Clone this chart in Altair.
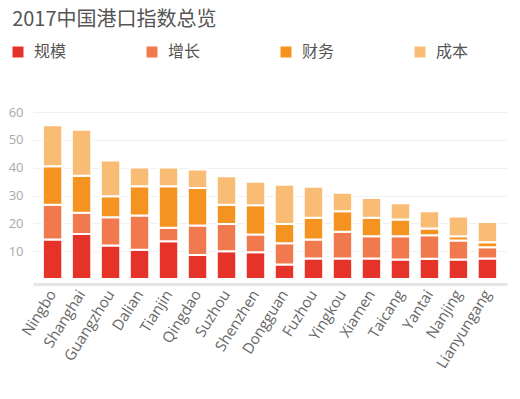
import altair as alt
import pandas as pd

ports = ["Ningbo", "Shanghai", "Guangzhou", "Dalian", "Tianjin", "Qingdao", "Suzhou",
         "Shenzhen", "Dongguan", "Fuzhou", "Yingkou", "Xiamen", "Taicang", "Yantai",
         "Nanjing", "Lianyungang"]
categories = ["规模", "增长", "财务", "成本"]
colors = ["#E5332A", "#F07A4D", "#F49320", "#F8BC74"]

scale_vals = [14.2, 16.2, 12.0, 10.5, 13.6, 8.6, 10.0, 9.6, 5.2, 7.4, 7.4, 7.4, 7.0, 7.3, 7.0, 7.4]
growth_vals = [12.5, 7.6, 10.2, 12.3, 4.8, 10.6, 9.8, 6.4, 7.6, 6.8, 9.6, 8.0, 8.4, 8.4, 6.8, 4.0]
finance_vals = [13.8, 13.3, 7.5, 10.5, 14.9, 13.5, 6.9, 10.5, 7.0, 7.8, 7.3, 6.6, 6.0, 2.4, 1.6, 1.8]
cost_vals = [14.7, 16.5, 12.9, 6.8, 6.8, 6.6, 10.2, 8.4, 14.1, 11.1, 6.7, 7.1, 5.8, 6.2, 7.1, 7.3]

series = [scale_vals, growth_vals, finance_vals, cost_vals]
rows = []
for i, p in enumerate(ports):
    for j, c in enumerate(categories):
        rows.append({"port": p, "cat": c, "idx": j, "value": series[j][i]})
df = pd.DataFrame(rows)

chart = alt.Chart(df).mark_bar(stroke="white", strokeWidth=2).encode(
    x=alt.X("port:N", sort=ports,
            scale=alt.Scale(paddingInner=0.33, paddingOuter=0.34),
            axis=alt.Axis(title=None, labelAngle=-58, labelFontSize=15, labelColor="#666",
                          labelFont="Open Sans", domainColor="#e6e6e6", domainWidth=3,
                          offset=5, ticks=False, labelPadding=7)),
    y=alt.Y("value:Q", stack="zero",
            scale=alt.Scale(domain=[0, 60], nice=False),
            axis=alt.Axis(title=None, values=[10, 20, 30, 40, 50, 60], labelFontSize=13,
                          labelColor="#aaa", labelPadding=10, ticks=False, domain=False,
                          gridColor="#f0f0f0", labelFont="Open Sans")),
    color=alt.Color("cat:N", scale=alt.Scale(domain=categories, range=colors),
                    legend=alt.Legend(title=None, orient="none", legendX=-23, legendY=-68,
                                      direction="horizontal", columns=4, gridAlign="all",
                                      columnPadding=77, symbolType="square", symbolSize=121,
                                      symbolStrokeWidth=0, labelFontSize=16, labelColor="#555",
                                      labelFont="Noto Sans CJK SC", labelOffset=8)),
    order=alt.Order("idx:Q", sort="ascending"),
).properties(
    width=474, height=167,
    title=alt.TitleParams("2017中国港口指数总览", anchor="start", fontSize=20,
                          font="Noto Sans CJK SC", color="#555", fontWeight="normal",
                          dx=4, offset=14),
    autosize=alt.AutoSizeParams(type="none"),
    padding={"left": 25, "top": 104, "right": 4, "bottom": 100},
).configure_view(stroke=None)

chart.save("out.html", embed_options={"renderer": "svg", "actions": False})
